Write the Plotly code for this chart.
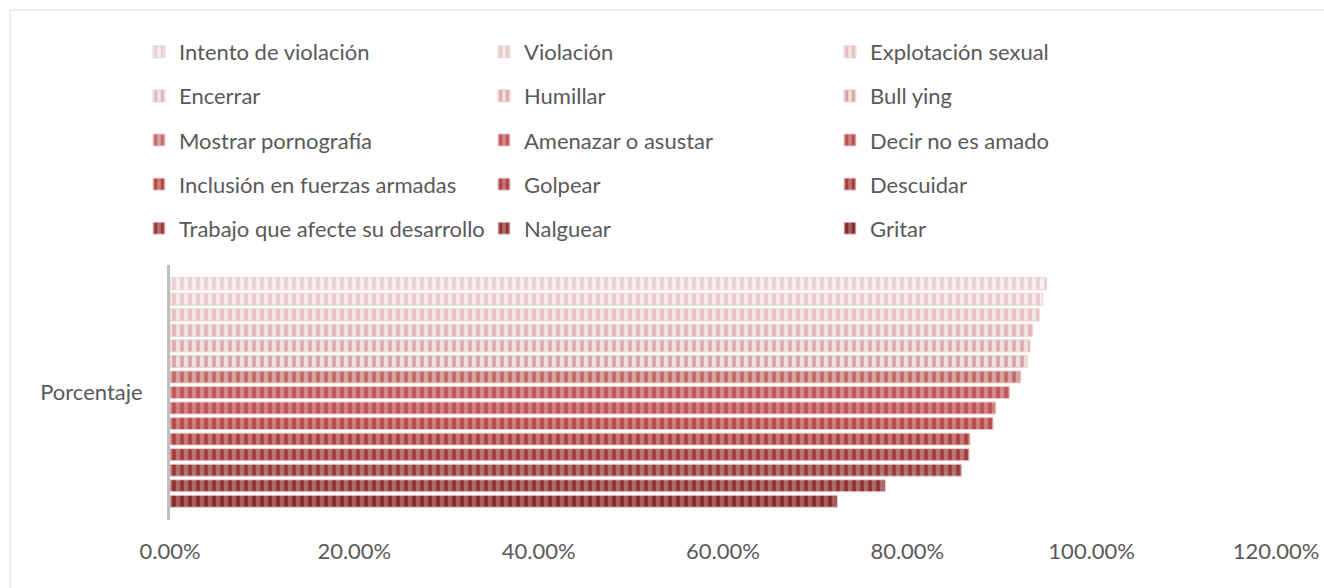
import plotly.graph_objects as go

category = ["Porcentaje"]
series_names = [
    "Intento de violación", "Violación", "Explotación sexual",
    "Encerrar", "Humillar", "Bull ying",
    "Mostrar pornografía", "Amenazar o asustar", "Decir no es amado",
    "Inclusión en fuerzas armadas", "Golpear", "Descuidar",
    "Trabajo que afecte su desarrollo", "Nalguear", "Gritar",
]
series_values = [
    0.951, 0.947, 0.943,
    0.936, 0.933, 0.930,
    0.923, 0.911, 0.896,
    0.893, 0.868, 0.867,
    0.859, 0.776, 0.724,
]
x_tick_values = [0, 0.2, 0.4, 0.6, 0.8, 1.0, 1.2]

bg_colors = ["#f8eeee", "#f6eaea", "#f4e5e5", "#f3e2e2", "#f2dfdf", "#f1dcdc",
             "#d9a3a3", "#d48a8a", "#d08282", "#cc7e7e", "#c67676", "#c07272",
             "#b47272", "#ad6a6a", "#a66060"]
fg_colors = ["#ebd0d0", "#e8c8c8", "#e4c0c0", "#dfb5b5", "#dbabab", "#d6a1a1",
             "#c26a6a", "#c05555", "#bb5050", "#b44848", "#ab4242", "#a43c3c",
             "#983838", "#8e3232", "#842c2c"]

FONT = "Lato"
TXT = "#595959"
FS = 22

W, H = 1324, 588
L, R, T, B = 170, 48, 265, 68
pw, ph = W - L - R, H - T - B


def px_x(p):
    return (p - L) / pw


def px_y(p):
    return (H - B - p) / ph


fig = go.Figure()
legend_ids = ["legend", "legend2", "legend3"]
for i, (name, val) in enumerate(zip(series_names, series_values)):
    fig.add_trace(go.Bar(
        y=category, x=[val], name=name, orientation="h",
        legend=legend_ids[i % 3], legendgroup="g%d" % i,
        marker=dict(
            color=bg_colors[i],
            line=dict(color="rgba(235,205,205,0.9)", width=1),
            pattern=dict(shape="|", fgcolor=fg_colors[i], bgcolor=bg_colors[i],
                         size=8, solidity=0.45, fillmode="replace"),
        ),
        hoverinfo="skip",
    ))

leg_common = dict(orientation="v", font=dict(family=FONT, size=FS, color=TXT),
                  tracegroupgap=12.5, bgcolor="rgba(0,0,0,0)", yanchor="top",
                  xanchor="left", itemclick=False, itemdoubleclick=False)
col_x = [139, 484, 830]
leg_top = 31
fig.update_layout(
    width=W, height=H,
    margin=dict(l=L, r=R, t=T, b=B),
    paper_bgcolor="white", plot_bgcolor="white",
    barmode="group", bargap=0.086, bargroupgap=0.23,
    font=dict(family=FONT, size=FS, color=TXT),
    hovermode=False,
    legend=dict(x=px_x(col_x[0]), y=px_y(leg_top), **leg_common),
    legend2=dict(x=px_x(col_x[1]), y=px_y(leg_top), **leg_common),
    legend3=dict(x=px_x(col_x[2]), y=px_y(leg_top), **leg_common),
    xaxis=dict(range=[0, 1.2], tickvals=x_tick_values, tickformat=".2%",
               showgrid=False, zeroline=False, showline=False,
               ticks="outside", ticklen=6, tickcolor="rgba(0,0,0,0)",
               tickfont=dict(family=FONT, size=FS, color=TXT),
               ticklabelstandoff=6, fixedrange=True, automargin=False),
    yaxis=dict(autorange="reversed", showgrid=False, zeroline=False,
               showline=True, linecolor="#bfbfbf", linewidth=3, ticks="",
               tickfont=dict(family=FONT, size=FS, color=TXT),
               ticklabelstandoff=20, fixedrange=True, automargin=False),
    shapes=[dict(type="rect", xref="paper", yref="paper",
                 x0=px_x(10), x1=px_x(W + 20), y0=px_y(H + 20), y1=px_y(10),
                 line=dict(color="#d9d9d9", width=1), fillcolor="rgba(0,0,0,0)",
                 layer="below")],
)

fig.write_html(
    "out.html",
    config={"displayModeBar": False, "staticPlot": False},
    post_script="document.body.style.margin='0';document.body.style.overflow='hidden';",
)
